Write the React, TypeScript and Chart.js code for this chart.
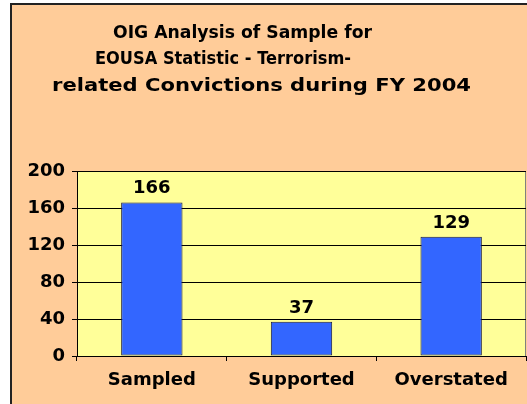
import React, { useEffect, useRef } from "react";
import { Chart, registerables } from "chart.js";

Chart.register(...registerables);

const titleLines = [
  "OIG Analysis of Sample for",
  "EOUSA Statistic - Terrorism-",
  "related Convictions during FY 2004",
];
const titleSpans = [
  [113, 372],
  [95, 351],
  [52, 471],
];
const categories = ["Sampled", "Supported", "Overstated"];
const values = [166, 37, 129];
const yTicks = [0, 40, 80, 120, 160, 200];

const FONT = "'DejaVu Sans', Verdana, sans-serif";

const decorPlugin = {
  id: "decor",
  beforeDraw(chart: any) {
    const { ctx, chartArea, width, height } = chart;
    ctx.save();
    ctx.fillStyle = "#ffffff";
    ctx.fillRect(0, 0, width, height);
    ctx.fillStyle = "#FFCC99";
    ctx.fillRect(10, 3, width - 10, height - 3);
    ctx.fillStyle = "#222222";
    ctx.fillRect(10, 3, 2, height - 3);
    ctx.fillRect(10, 3, width - 10, 2);
    ctx.fillStyle = "#FFFF99";
    ctx.fillRect(chartArea.left, chartArea.top, chartArea.right - chartArea.left, chartArea.bottom - chartArea.top);
    ctx.strokeStyle = "#808080";
    ctx.lineWidth = 1;
    ctx.strokeRect(chartArea.left + 0.5, chartArea.top + 0.5, chartArea.right - chartArea.left - 1, chartArea.bottom - chartArea.top);
    // title
    ctx.fillStyle = "#000000";
    ctx.font = `bold 18px ${FONT}`;
    ctx.textAlign = "left";
    ctx.textBaseline = "alphabetic";
    titleLines.forEach((line, i) => {
      const [x0, x1] = titleSpans[i];
      const base = ctx.measureText(line).width;
      const sx = (x1 - x0) / base;
      ctx.save();
      ctx.translate(x0, 37.5 + i * 26.5);
      ctx.scale(sx, 1);
      ctx.fillText(line, 0, 0);
      ctx.restore();
    });
    ctx.restore();
  },
  afterDatasetsDraw(chart: any) {
    const { ctx } = chart;
    const meta = chart.getDatasetMeta(0);
    ctx.save();
    ctx.fillStyle = "#000000";
    ctx.font = `bold 18px ${FONT}`;
    ctx.textAlign = "center";
    ctx.textBaseline = "alphabetic";
    meta.data.forEach((el: any, i: number) => {
      ctx.fillText(String(values[i]), el.x, el.y - 9);
    });
    ctx.restore();
  },
};

export default function App() {
  const ref = useRef<HTMLCanvasElement>(null);
  useEffect(() => {
    document.body.style.margin = "0";
    const chart = new Chart(ref.current!, {
      type: "bar",
      data: {
        labels: categories,
        datasets: [
          {
            data: values,
            backgroundColor: "#3366FF",
            borderColor: "#1a1a40",
            borderWidth: 1,
            borderSkipped: false,
            categoryPercentage: 1,
            barPercentage: 0.41,
          },
        ],
      },
      options: {
        responsive: false,
        animation: false,
        layout: { padding: { left: 0, top: 171, right: 1, bottom: 0 } },
        plugins: {
          legend: { display: false },
          title: { display: false },
          tooltip: { enabled: false },
        },
        scales: {
          x: {
            grid: {
              offset: true,
              drawOnChartArea: false,
              drawTicks: true,
              tickLength: 5,
              color: "#000000",
            },
            border: { color: "#000000", width: 1 },
            ticks: {
              color: "#000000",
              font: { family: FONT, weight: "bold", size: 18 },
              padding: 9,
            },
            afterFit(scale: any) {
              scale.height = 48;
            },
          },
          y: {
            min: 0,
            max: 200,
            afterBuildTicks(scale: any) {
              scale.ticks = yTicks.map((v) => ({ value: v }));
            },
            grid: {
              color: "#000000",
              tickLength: 5,
              drawTicks: true,
            },
            border: { color: "#000000", width: 1 },
            ticks: {
              color: "#000000",
              font: { family: FONT, weight: "bold", size: 18 },
              padding: 7,
            },
            afterFit(scale: any) {
              scale.width = 77;
            },
          },
        },
      },
      plugins: [decorPlugin],
    });
    return () => chart.destroy();
  }, []);
  return (
    <div style={{ position: "absolute", left: 0, top: 0, width: 527, height: 404 }}>
      <canvas ref={ref} width={527} height={404} />
    </div>
  );
}
